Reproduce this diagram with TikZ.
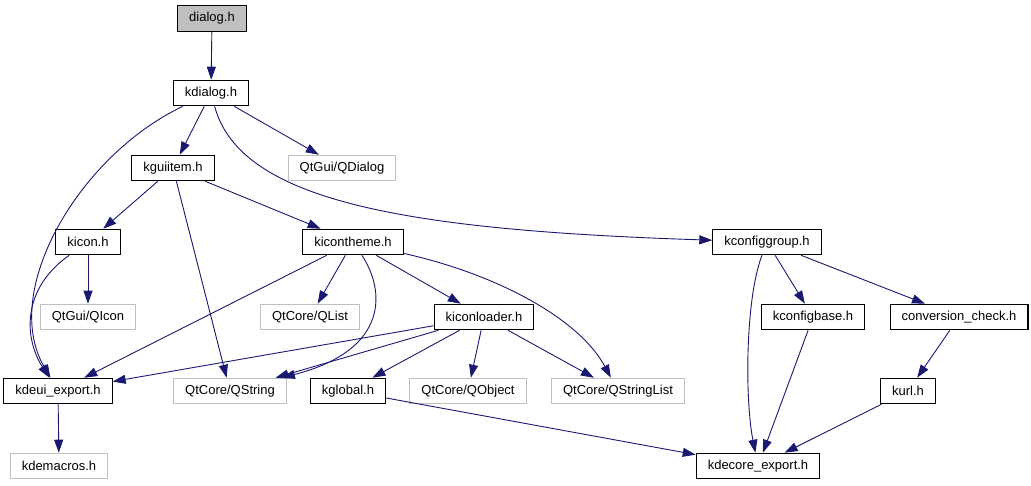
\documentclass[tikz,border=0pt]{standalone}
\usepackage{fontspec}
\setmainfont{Liberation Sans}
\usetikzlibrary{arrows.meta}
\definecolor{edgeblue}{RGB}{25,25,112}
\definecolor{extgray}{RGB}{191,191,191}

\begin{document}
\begin{tikzpicture}[x=1pt, y=-1pt,
        main/.style = {draw=black, line width=1.1pt, text=black, fill=white, font=\fontsize{13}{15}\selectfont, inner xsep=11.5pt, inner ysep=0pt, minimum height=25.5pt},
        root/.style = {main, fill=extgray},
        ext/.style = {main, draw=extgray},
        dep/.style = {-{Triangle[length=13pt,width=9pt]}, draw=edgeblue, line width=0.9pt}]
    \useasboundingbox (0,0) rectangle (1031,485);

    \node[root] (dialog) at (212,18.5) {dialog.h};
    \node[main] (kdialog) at (211,93) {kdialog.h};
    \node[main] (kguiitem) at (173,168) {kguiitem.h};
    \node[ext] (qdialog) at (342,168) {QtGui/QDialog};
    \node[main] (kicon) at (88,242) {kicon.h};
    \node[main] (kicontheme) at (353,242) {kicontheme.h};
    \node[main] (kconfiggroup) at (767,242) {kconfiggroup.h};
    \node[ext] (qicon) at (88,317) {QtGui/QIcon};
    \node[ext] (qlist) at (310,317) {QtCore/QList};
    \node[main] (kiconloader) at (484,317) {kiconloader.h};
    \node[main] (kconfigbase) at (813,317) {kconfigbase.h};
    \node[main] (convcheck) at (959,317) {conversion\_check.h};
    \node[main] (kdeuiexport) at (58,391) {kdeui\_export.h};
    \node[ext] (qstring) at (230,391) {QtCore/QString};
    \node[main] (kglobal) at (348,391) {kglobal.h};
    \node[ext] (qobject) at (468,391) {QtCore/QObject};
    \node[ext] (qstringlist) at (618,391) {QtCore/QStringList};
    \node[main] (kurl) at (908,391) {kurl.h};
    \node[ext] (kdemacros) at (59,466) {kdemacros.h};
    \node[main] (kdecoreexport) at (758,466) {kdecore\_export.h};

    \draw[dep] (dialog) -- (kdialog);
    \draw[dep] (kdialog) .. controls (80,155) and (0,290) .. (kdeuiexport);
    \draw[dep] (kdialog) -- (kguiitem);
    \draw[dep] (kdialog) -- (qdialog);
    \draw[dep] (kdialog) .. controls (240,200) and (400,230) .. (kconfiggroup);
    \draw[dep] (kguiitem) -- (kicon);
    \draw[dep] (kguiitem) -- (qstring);
    \draw[dep] (kguiitem) -- (kicontheme);
    \draw[dep] (kicon) .. controls (20,290) and (25,340) .. (kdeuiexport);
    \draw[dep] (kicon) -- (qicon);
    \draw[dep] (kicontheme) -- (kdeuiexport);
    \draw[dep] (kicontheme) -- (qlist);
    \draw[dep] (kicontheme) .. controls (385,290) and (390,350) .. (qstring);
    \draw[dep] (kicontheme) -- (kiconloader);
    \draw[dep] (kicontheme) .. controls (500,275) and (580,320) .. (qstringlist);
    \draw[dep] (kiconloader) -- (kdeuiexport);
    \draw[dep] (kiconloader) -- (qstring);
    \draw[dep] (kiconloader) -- (kglobal);
    \draw[dep] (kiconloader) -- (qobject);
    \draw[dep] (kiconloader) -- (qstringlist);
    \draw[dep] (kglobal) -- (kdecoreexport);
    \draw[dep] (kconfiggroup) .. controls (745,300) and (745,400) .. (kdecoreexport);
    \draw[dep] (kconfiggroup) -- (kconfigbase);
    \draw[dep] (kconfiggroup) -- (convcheck);
    \draw[dep] (kconfigbase) -- (kdecoreexport);
    \draw[dep] (convcheck) -- (kurl);
    \draw[dep] (kurl) -- (kdecoreexport);
    \draw[dep] (kdeuiexport) -- (kdemacros);
\end{tikzpicture}
\end{document}
